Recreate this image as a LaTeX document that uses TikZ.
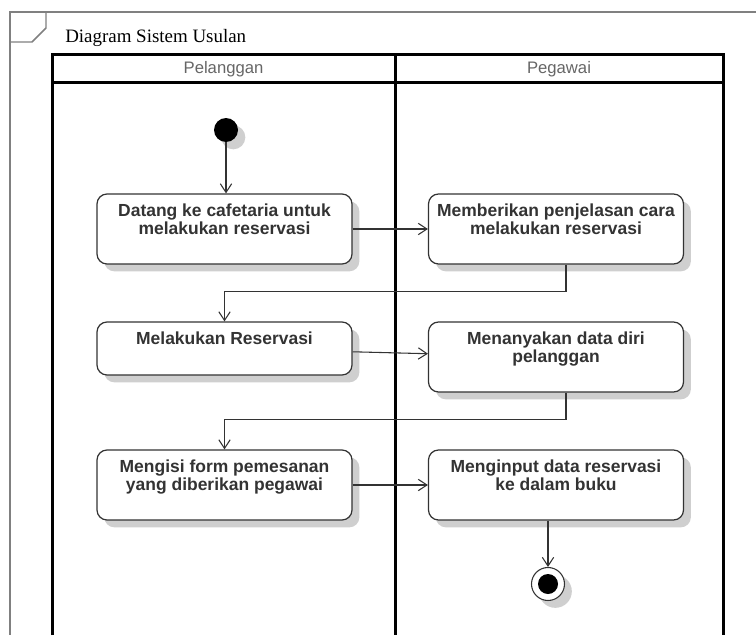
\documentclass[tikz,border=0pt]{standalone}
\usepackage{fontspec}
\setmainfont{Liberation Serif}
\setsansfont{Liberation Sans}
\usetikzlibrary{arrows.meta,positioning,shadows}
\definecolor{inkgray}{HTML}{333333}
\definecolor{framegray}{HTML}{808080}
\definecolor{shadegray}{HTML}{CFCFCF}
\definecolor{headgray}{HTML}{666666}
\tikzset{
  lane/.style={line width=2.25pt,black},
  umlframe/.style={line width=1.1pt,framegray},
  act/.style={rectangle,rounded corners=7.5pt,draw=inkgray,line width=0.9pt,fill=white,
    minimum width=191.25pt,inner sep=0pt,
    drop shadow={shadow xshift=5.5pt,shadow yshift=-5.5pt,fill=shadegray,opacity=1}},
  acttxt/.style={inner sep=0pt,align=center,text=inkgray,
    font=\sffamily\bfseries\fontsize{13.1}{11.9}\selectfont},
  lanetxt/.style={inner sep=0pt,text=headgray,font=\sffamily\fontsize{12.5}{14}\selectfont},
  flow/.style={draw=inkgray,line width=0.8pt,-{Straight Barb[length=6.5pt,width=8.5pt]}},
  startv/.style={circle,fill=black,minimum size=18pt,inner sep=0pt,
    drop shadow={shadow xshift=5.5pt,shadow yshift=-5.5pt,fill=shadegray,opacity=1}},
  endv/.style={circle,draw=inkgray,line width=0.8pt,fill=white,minimum size=24.75pt,inner sep=0pt,
    drop shadow={shadow xshift=5.5pt,shadow yshift=-5.5pt,fill=shadegray,opacity=1}},
  enddot/.style={circle,fill=black,minimum size=15pt,inner sep=0pt}
}
\begin{document}
\begin{tikzpicture}[x=0.75pt,y=-0.75pt]
\useasboundingbox (0,0) rectangle (756,635);
\draw[umlframe] (756,12) -- (10,12) -- (10,635);
\draw[umlframe] (46,12) -- (46,28) -- (32,42) -- (10,42);
\node[anchor=base west,inner sep=0pt,font=\fontsize{14.2}{16}\selectfont] (title) at (65,43) {Diagram Sistem Usulan};
\draw[lane] (52,635) |- (723,55) -- (723,635);
\draw[lane] (52,83) -- (723,83);
\draw[lane] (395,55) -- (395,635);
\node[lanetxt] (h1) at (223.5,69) {Pelanggan};
\node[lanetxt] (h2) at (559,69) {Pegawai};
\node[startv] (init) at (226,130) {};
\node[act,minimum height=52.5pt] (b1) at (224.5,229) {};
\node[acttxt,below=8pt of b1.north] (t1) {Datang ke cafetaria untuk\\melakukan reservasi};
\node[act,minimum height=52.5pt] (b2) at (556,229) {};
\node[acttxt,below=8pt of b2.north] (t2) {Memberikan penjelasan cara\\melakukan reservasi};
\node[act,minimum height=39.75pt] (b3) at (224.5,348.5) {};
\node[acttxt,below=8pt of b3.north] (t3) {Melakukan Reservasi};
\node[act,minimum height=52.5pt] (b4) at (556,357) {};
\node[acttxt,below=8pt of b4.north] (t4) {Menanyakan data diri\\pelanggan};
\node[act,minimum height=52.5pt] (b5) at (224.5,485) {};
\node[acttxt,below=8pt of b5.north] (t5) {Mengisi form pemesanan\\yang diberikan pegawai};
\node[act,minimum height=52.5pt] (b6) at (556,485) {};
\node[acttxt,below=8pt of b6.north] (t6) {Menginput data reservasi\\ke dalam buku};
\node[endv] (final) at (548,584) {};
\node[enddot] (fdot) at (final) {};
\draw[flow] (init) -- (init |- b1.north);
\draw[flow] (b1) -- (b2);
\draw[flow] ([xshift=7.5pt]b2.south) -- ++(0,27) -| (b3.north);
\draw[flow] (b3) -- (b4);
\draw[flow] ([xshift=7.5pt]b4.south) -- ++(0,27) -| (b5.north);
\draw[flow] (b5) -- (b6);
\draw[flow] (final |- b6.south) -- (final);
\end{tikzpicture}
\end{document}
